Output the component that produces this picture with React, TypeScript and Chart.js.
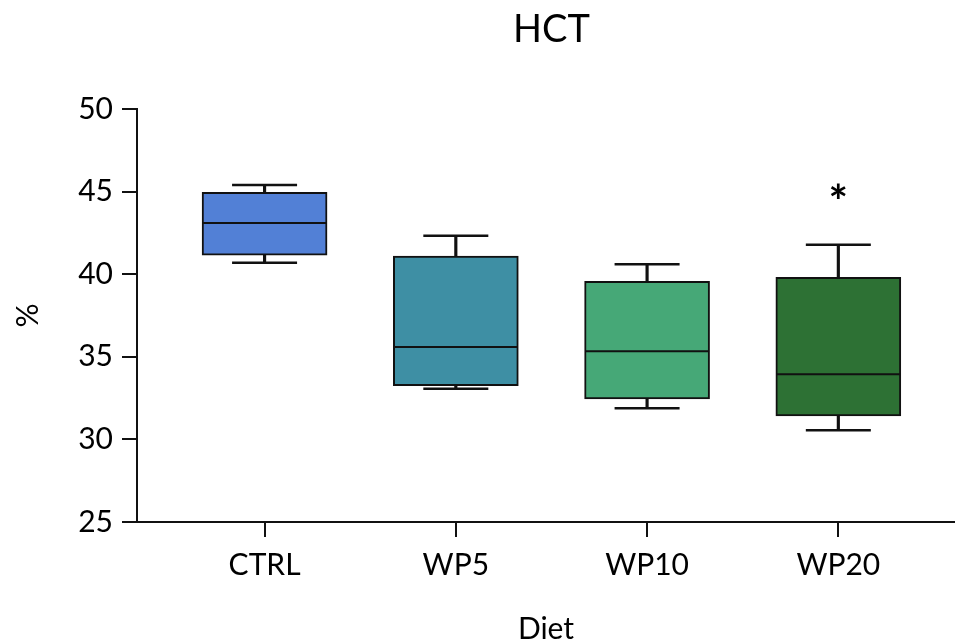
import { useEffect, useRef } from "react";
import { Chart, registerables } from "chart.js";

Chart.register(...registerables);

const categories = ["CTRL", "WP5", "WP10", "WP20"];
const mins = [40.7, 33.07, 31.88, 30.55];
const q1s = [41.15, 33.25, 32.45, 31.42];
const medians = [43.1, 35.6, 35.33, 33.94];
const q3s = [44.96, 41.1, 39.57, 39.81];
const maxs = [45.4, 42.33, 40.6, 41.79];
const significance = ["", "", "", "*"];
const significanceY = [null, null, null, 45.1];
const boxColors = ["#5280D6", "#3E8FA4", "#46A877", "#2D7134"];
const yMin = 25;
const yMax = 50;
const yStep = 5;

const FONT = "Lato, 'Open Sans', sans-serif";

const textPlugin = {
  id: "textPlugin",
  afterDatasetsDraw(chart: any) {
    const { ctx, scales } = chart;
    const x = scales.x;
    const y = scales.y;
    ctx.save();
    ctx.fillStyle = "#000";
    ctx.textAlign = "center";
    ctx.textBaseline = "middle";
    ctx.font = `38px ${FONT}`;
    ctx.fillText("HCT", x.getPixelForValue((categories.length - 1) / 2), 30);
    ctx.font = `bold 46px ${FONT}`;
    significance.forEach((s, i) => {
      const v = significanceY[i];
      if (s && v !== null) {
        ctx.fillText(s, x.getPixelForValue(i), y.getPixelForValue(v) + 13);
      }
    });
    ctx.restore();
  },
};

export default function App() {
  const ref = useRef<HTMLCanvasElement>(null);
  useEffect(() => {
    document.body.style.margin = "0";
    const idx = categories.map((_, i) => i);
    const chart = new Chart(ref.current!, {
      type: "bar",
      data: {
        datasets: [
          {
            type: "bar",
            label: "upper whisker",
            data: idx.map((i) => ({ x: i, y: [q3s[i], maxs[i]] })),
            backgroundColor: "#111",
            borderWidth: 0,
            barThickness: 2.5,
            grouped: false,
            order: 5,
          } as any,
          {
            type: "bar",
            label: "lower whisker",
            data: idx.map((i) => ({ x: i, y: [mins[i], q1s[i]] })),
            backgroundColor: "#111",
            borderWidth: 0,
            barThickness: 2.5,
            grouped: false,
            order: 5,
          } as any,
          {
            type: "bar",
            label: "box",
            data: idx.map((i) => ({ x: i, y: [q1s[i], q3s[i]] })),
            backgroundColor: boxColors,
            borderColor: "#111",
            borderWidth: 2,
            borderSkipped: false,
            barThickness: 125,
            grouped: false,
            order: 3,
          } as any,
          {
            type: "scatter",
            label: "median",
            data: idx.map((i) => ({ x: i, y: medians[i] })),
            pointStyle: "line",
            pointRadius: 62,
            pointHoverRadius: 62,
            borderColor: "#111",
            pointBorderColor: "#111",
            pointBorderWidth: 2,
            order: 1,
          } as any,
          {
            type: "scatter",
            label: "caps",
            data: [
              ...idx.map((i) => ({ x: i, y: maxs[i] })),
              ...idx.map((i) => ({ x: i, y: mins[i] })),
            ],
            pointStyle: "line",
            pointRadius: 32.5,
            pointHoverRadius: 32.5,
            borderColor: "#111",
            pointBorderColor: "#111",
            pointBorderWidth: 2.5,
            order: 1,
          } as any,
        ],
      },
      options: {
        animation: false,
        responsive: false,
        layout: {
          autoPadding: false,
          padding: { top: 109, right: 0, bottom: 0, left: 0 },
        },
        plugins: {
          legend: { display: false },
          tooltip: { enabled: false },
          title: { display: false },
        },
        scales: {
          x: {
            type: "linear",
            min: -0.667,
            max: 3.61,
            offset: false,
            grid: {
              display: true,
              drawOnChartArea: false,
              drawTicks: true,
              tickLength: 15,
              color: "#111",
              lineWidth: 2,
              offset: false,
            },
            border: { display: true, color: "#111", width: 2 },
            ticks: {
              font: { family: FONT, size: 30 },
              color: "#000",
              padding: 10,
              autoSkip: false,
              maxRotation: 0,
              callback: (v: any) => categories[v as number] ?? "",
            },
            afterBuildTicks: (s: any) => {
              s.ticks = idx.map((i) => ({ value: i }));
            },
            afterFit: (s: any) => {
              s.height = 121;
              s.paddingLeft = 0;
              s.paddingRight = 0;
            },
            title: {
              display: true,
              text: "Diet",
              color: "#000",
              font: { family: FONT, size: 30 },
              padding: { top: 0, bottom: -4 },
            },
          },
          y: {
            min: yMin,
            max: yMax,
            grid: {
              display: true,
              drawOnChartArea: false,
              drawTicks: true,
              tickLength: 15,
              color: "#111",
              lineWidth: 2,
            },
            border: { display: true, color: "#111", width: 2 },
            ticks: {
              stepSize: yStep,
              font: { family: FONT, size: 30 },
              color: "#000",
              padding: 9,
            },
            afterFit: (s: any) => {
              s.width = 137;
            },
            title: {
              display: true,
              text: "%",
              color: "#000",
              font: { family: FONT, size: 30 },
              padding: { top: 10, bottom: 0 },
            },
          },
        },
      } as any,
      plugins: [textPlugin],
    });
    return () => chart.destroy();
  }, []);
  return (
    <div style={{ width: 955, height: 643 }}>
      <canvas ref={ref} width={955} height={643} />
    </div>
  );
}
